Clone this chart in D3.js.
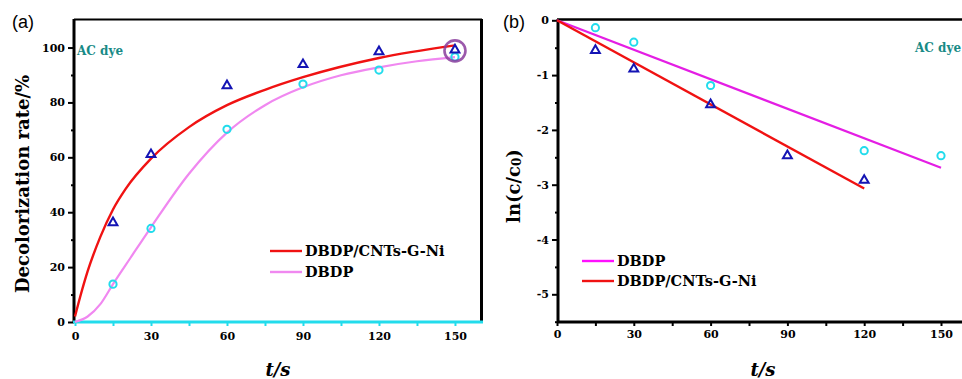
<!DOCTYPE html>
<html>
<head>
<meta charset="utf-8">
<script src="https://cdn.jsdelivr.net/npm/d3@7"></script>
<style>
  html, body { margin: 0; padding: 0; background: #fff; }
  svg { display: block; }
  .tick text { font-family: "DejaVu Serif", serif; font-weight: bold; font-size: 11px; fill: #000; }
</style>
</head>
<body>
<div id="chart"></div>
<script>
// panel (a): decolorization rate vs time
const timeA = [15, 30, 60, 90, 120, 150];
const rateCnt = [36.4, 61.2, 86.3, 94.0, 98.7, 99.3];
const rateDbdp = [13.8, 34.1, 70.2, 86.7, 91.8, 96.6];
// fitted curves
const fitTimeCnt = [0, 2, 5, 10, 15, 20, 30, 45, 60, 75, 90, 120, 150];
const fitCnt = [2, 9, 18.5, 31, 41, 48.5, 59.5, 71, 79, 84.6, 89.2, 96.2, 100.8];
const fitTimeDbdp = [0, 5, 10, 15, 22, 30, 45, 60, 75, 90, 105, 120, 135, 150];
const fitDbdp = [0, 2, 6.5, 13.8, 23.5, 34.5, 54, 69, 79, 85.5, 89.9, 92.8, 95, 96.5];
const ringPoint = [150, 98.8];

// panel (b): ln(c/c0) vs time
const timeBCnt = [15, 30, 60, 90, 120];
const lnCnt = [-0.54, -0.88, -1.53, -2.46, -2.91];
const timeBDbdp = [15, 30, 60, 120, 150];
const lnDbdp = [-0.135, -0.40, -1.19, -2.38, -2.47];
const lineTimeCnt = [0, 120];
const lineCnt = [0, -3.07];
const lineTimeDbdp = [0, 150];
const lineDbdp = [0, -2.69];

const xTicks = [0, 30, 60, 90, 120, 150];
const xMinor = [15, 45, 75, 105, 135];
const yTicksA = [0, 20, 40, 60, 80, 100];
const yMinorA = [10, 30, 50, 70, 90];
const yTicksB = [0, -1, -2, -3, -4, -5];
const yMinorB = [-0.5, -1.5, -2.5, -3.5, -4.5, -5.5];

const RED = "#f01212", BLUE = "#1414b4", CYAN = "#22dcec";

const svg = d3.select("#chart").append("svg")
  .attr("width", 962).attr("height", 379);

const pts = (xs, ys) => xs.map((t, i) => [t, ys[i]]);

function triangles(g, x, y, data) {
  g.append("g").selectAll("path").data(data).enter().append("path")
    .attr("d", d3.symbol().type(d3.symbolTriangle).size(34))
    .attr("transform", d => "translate(" + x(d[0]) + "," + (y(d[1]) + 0.5) + ")")
    .attr("fill", "none").attr("stroke", BLUE).attr("stroke-width", 2);
}
function circles(g, x, y, data) {
  g.append("g").selectAll("circle").data(data).enter().append("circle")
    .attr("cx", d => x(d[0])).attr("cy", d => y(d[1])).attr("r", 3.6)
    .attr("fill", "none").attr("stroke", CYAN).attr("stroke-width", 2);
}
function ticks(g, axis, tickCol) {
  g.call(axis);
  g.select(".domain").remove();
  g.selectAll(".tick line").attr("stroke", tickCol).attr("stroke-width", 2);
}

// ---------- panel (a)
const xA = d3.scaleLinear().domain([0, 160]).range([75, 480.3]);
const yA = d3.scaleLinear().domain([0, 110]).range([322, 20.1]);
const gA = svg.append("g");

ticks(gA.append("g").attr("transform", "translate(74,0)"),
  d3.axisLeft(yA).tickValues(yMinorA).tickSize(3).tickFormat(""), "#000");
ticks(gA.append("g").attr("transform", "translate(74,0)"),
  d3.axisLeft(yA).tickValues(yTicksA).tickSize(6).tickPadding(3), "#000");
ticks(gA.append("g").attr("transform", "translate(0,322)"),
  d3.axisBottom(xA).tickValues(xMinor).tickSize(4).tickFormat(""), CYAN);
ticks(gA.append("g").attr("transform", "translate(0,322)"),
  d3.axisBottom(xA).tickValues(xTicks).tickSize(4).tickPadding(6), CYAN);

gA.append("line").attr("x1", 74).attr("x2", 482).attr("y1", 19.5).attr("y2", 19.5)
  .attr("stroke", "#000").attr("stroke-width", 2);
gA.append("line").attr("x1", 481.5).attr("x2", 481.5).attr("y1", 19).attr("y2", 322)
  .attr("stroke", "#000").attr("stroke-width", 3);
gA.append("line").attr("x1", 74).attr("x2", 74).attr("y1", 19).attr("y2", 323)
  .attr("stroke", "#000").attr("stroke-width", 3);
gA.append("line").attr("x1", 73).attr("x2", 483).attr("y1", 322).attr("y2", 322)
  .attr("stroke", CYAN).attr("stroke-width", 3);

const lineA = d3.line().x(d => xA(d[0])).y(d => yA(d[1])).curve(d3.curveMonotoneX);
gA.append("path").attr("d", lineA(pts(fitTimeDbdp, fitDbdp)))
  .attr("fill", "none").attr("stroke", "#f088f0").attr("stroke-width", 2.2);
gA.append("path").attr("d", lineA(pts(fitTimeCnt, fitCnt)))
  .attr("fill", "none").attr("stroke", RED).attr("stroke-width", 2.4);

circles(gA, xA, yA, pts(timeA, rateDbdp));
triangles(gA, xA, yA, pts(timeA, rateCnt));

gA.append("circle").attr("cx", xA(ringPoint[0])).attr("cy", yA(ringPoint[1])).attr("r", 10.5)
  .attr("fill", "none").attr("stroke", "#8a3c9c").attr("stroke-width", 2.6).attr("opacity", 0.85);

gA.append("text").attr("x", 12).attr("y", 28).text("(a)")
  .style("font-family", "Liberation Sans, sans-serif").style("font-size", "18px");
gA.append("text").attr("x", 77).attr("y", 55).text("AC dye")
  .style("font-family", "DejaVu Serif, serif").style("font-weight", "bold")
  .style("font-size", "12px").style("fill", "#188a86");
gA.append("text").attr("transform", "translate(22,184) rotate(-90)")
  .attr("text-anchor", "middle").attr("dominant-baseline", "central")
  .text("Decolorization rate/%")
  .style("font-family", "DejaVu Serif, serif").style("font-weight", "bold").style("font-size", "18px");
gA.append("text").attr("x", 278).attr("y", 376).attr("text-anchor", "middle").text("t/s")
  .style("font-family", "DejaVu Serif, serif").style("font-weight", "bold")
  .style("font-style", "italic").style("font-size", "18px");

// legend (a)
const legA = [["DBDP/CNTs-G-Ni", RED, 251], ["DBDP", "#f088f0", 272]];
legA.forEach(l => {
  gA.append("line").attr("x1", 270).attr("x2", 302).attr("y1", l[2]).attr("y2", l[2])
    .attr("stroke", l[1]).attr("stroke-width", 2.4);
  gA.append("text").attr("x", 305).attr("y", l[2] + 5).text(l[0])
    .style("font-family", "DejaVu Serif, serif").style("font-weight", "bold").style("font-size", "14.5px");
});

// ---------- panel (b)
const xB = d3.scaleLinear().domain([0, 160]).range([557, 966.6]);
const yB = d3.scaleLinear().domain([-5.5, 0]).range([321.7, 20.3]);
const gB = svg.append("g");

ticks(gB.append("g").attr("transform", "translate(558,0)"),
  d3.axisLeft(yB).tickValues(yMinorB).tickSize(3).tickFormat(""), "#000");
ticks(gB.append("g").attr("transform", "translate(558,0)"),
  d3.axisLeft(yB).tickValues(yTicksB).tickSize(6).tickPadding(3).tickFormat(d => String(d)), "#000");
ticks(gB.append("g").attr("transform", "translate(0,322)"),
  d3.axisBottom(xB).tickValues(xMinor).tickSize(4).tickFormat(""), "#000");
ticks(gB.append("g").attr("transform", "translate(0,322)"),
  d3.axisBottom(xB).tickValues(xTicks).tickSize(4).tickPadding(4), "#000");

gB.append("line").attr("x1", 557).attr("x2", 962).attr("y1", 19.5).attr("y2", 19.5)
  .attr("stroke", "#000").attr("stroke-width", 2.5);
gB.append("line").attr("x1", 558).attr("x2", 558).attr("y1", 19).attr("y2", 323)
  .attr("stroke", "#000").attr("stroke-width", 3);
gB.append("line").attr("x1", 557).attr("x2", 962).attr("y1", 322).attr("y2", 322)
  .attr("stroke", "#000").attr("stroke-width", 3);

const lineB = d3.line().x(d => xB(d[0])).y(d => yB(d[1]));
gB.append("path").attr("d", lineB(pts(lineTimeDbdp, lineDbdp)))
  .attr("fill", "none").attr("stroke", "#e41ee4").attr("stroke-width", 2.2);
gB.append("path").attr("d", lineB(pts(lineTimeCnt, lineCnt)))
  .attr("fill", "none").attr("stroke", RED).attr("stroke-width", 2.4);

circles(gB, xB, yB, pts(timeBDbdp, lnDbdp));
triangles(gB, xB, yB, pts(timeBCnt, lnCnt));

gB.append("text").attr("x", 503).attr("y", 28).text("(b)")
  .style("font-family", "Liberation Sans, sans-serif").style("font-size", "18px");
gB.append("text").attr("x", 915).attr("y", 52).text("AC dye")
  .style("font-family", "DejaVu Serif, serif").style("font-weight", "bold")
  .style("font-size", "12px").style("fill", "#188a86");
const yTitleB = gB.append("text").attr("transform", "translate(513,186) rotate(-90)")
  .attr("text-anchor", "middle").attr("dominant-baseline", "central")
  .style("font-family", "DejaVu Serif, serif").style("font-weight", "bold").style("font-size", "18px");
yTitleB.append("tspan").text("ln(c/c");
yTitleB.append("tspan").attr("dy", 4).style("font-size", "12px").text("0");
yTitleB.append("tspan").attr("dy", -4).text(")");
gB.append("text").attr("x", 763).attr("y", 376).attr("text-anchor", "middle").text("t/s")
  .style("font-family", "DejaVu Serif, serif").style("font-weight", "bold")
  .style("font-style", "italic").style("font-size", "18px");

const legB = [["DBDP", "#ff10ff", 261], ["DBDP/CNTs-G-Ni", RED, 281]];
legB.forEach(l => {
  gB.append("line").attr("x1", 582).attr("x2", 614).attr("y1", l[2]).attr("y2", l[2])
    .attr("stroke", l[1]).attr("stroke-width", 2.4);
  gB.append("text").attr("x", 617).attr("y", l[2] + 5).text(l[0])
    .style("font-family", "DejaVu Serif, serif").style("font-weight", "bold").style("font-size", "14.5px");
});
</script>
</body>
</html>
